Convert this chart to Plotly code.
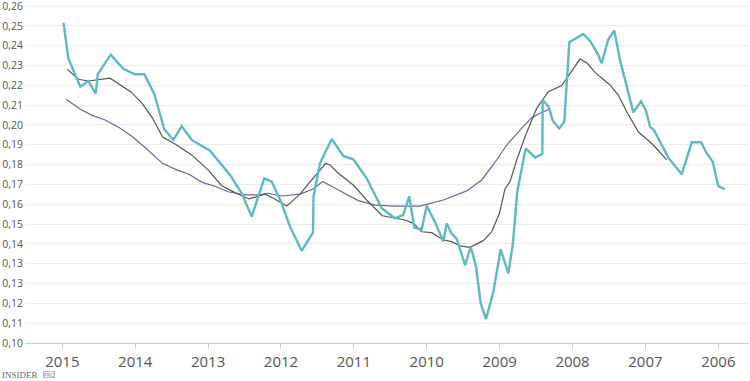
import numpy as np
import plotly.graph_objects as go

# ---- data (decimal years, values) ----
teal_x = [2014.984, 2014.918, 2014.753, 2014.643, 2014.542, 2014.514, 2014.336, 2014.163, 2014.003, 2013.875,
          2013.738, 2013.601, 2013.477, 2013.362, 2013.225, 2012.974, 2012.699, 2012.539, 2012.402, 2012.229,
          2012.127, 2011.990, 2011.876, 2011.716, 2011.561, 2011.554, 2011.465, 2011.304, 2011.145, 2011.008,
          2010.824, 2010.618, 2010.436, 2010.322, 2010.240, 2010.171, 2010.069, 2010.001, 2009.887, 2009.773,
          2009.726, 2009.658, 2009.589, 2009.475, 2009.397, 2009.324, 2009.260, 2009.187, 2009.087, 2008.986,
          2008.881, 2008.821, 2008.758, 2008.643, 2008.511, 2008.415, 2008.409, 2008.323, 2008.272, 2008.182,
          2008.113, 2008.044, 2007.852, 2007.751, 2007.647, 2007.600, 2007.509, 2007.427, 2007.349, 2007.166,
          2007.061, 2006.992, 2006.937, 2006.878, 2006.686, 2006.502, 2006.365, 2006.238, 2006.159, 2006.077,
          2006.000, 2005.908]
teal_y = [0.2521, 0.2352, 0.2217, 0.2244, 0.2184, 0.2276, 0.2369, 0.2302, 0.2276, 0.2276,
          0.2182, 0.2015, 0.1964, 0.2030, 0.1964, 0.1913, 0.1798, 0.1711, 0.1600, 0.1782,
          0.1766, 0.1663, 0.1552, 0.1438, 0.1524, 0.1695, 0.1853, 0.1969, 0.1888, 0.1872,
          0.1782, 0.1640, 0.1592, 0.1608, 0.1696, 0.1547, 0.1540, 0.1652, 0.1574, 0.1482,
          0.1567, 0.1518, 0.1494, 0.1370, 0.1456, 0.1363, 0.1188, 0.1114, 0.1242, 0.1445,
          0.1331, 0.1465, 0.1718, 0.1924, 0.1880, 0.1897, 0.2154, 0.2119, 0.2055, 0.2019,
          0.2051, 0.2428, 0.2467, 0.2431, 0.2367, 0.2328, 0.2442, 0.2483, 0.2344, 0.2095,
          0.2148, 0.2103, 0.2027, 0.2008, 0.1880, 0.1801, 0.1953, 0.1953, 0.1901, 0.1861,
          0.1745, 0.1730]

gray_x = [2014.931, 2014.780, 2014.643, 2014.346, 2014.058, 2013.907, 2013.763, 2013.625, 2013.454, 2013.225,
          2012.997, 2012.813, 2012.631, 2012.439, 2012.219, 2012.105, 2011.921, 2011.739, 2011.578, 2011.386,
          2011.327, 2011.214, 2011.008, 2010.824, 2010.610, 2010.436, 2010.299, 2010.185, 2010.069, 2009.932,
          2009.773, 2009.658, 2009.544, 2009.407, 2009.224, 2009.109, 2009.002, 2008.927, 2008.858, 2008.766,
          2008.652, 2008.492, 2008.332, 2008.149, 2007.898, 2007.797, 2007.692, 2007.486, 2007.372, 2007.257,
          2007.098, 2006.892, 2006.708]
gray_y = [0.2299, 0.2252, 0.2244, 0.2257, 0.2192, 0.2139, 0.2068, 0.1978, 0.1945, 0.1893,
          0.1821, 0.1747, 0.1714, 0.1684, 0.1707, 0.1687, 0.1650, 0.1707, 0.1774, 0.1853,
          0.1845, 0.1806, 0.1750, 0.1679, 0.1604, 0.1592, 0.1584, 0.1568, 0.1528, 0.1524,
          0.1489, 0.1481, 0.1461, 0.1454, 0.1486, 0.1528, 0.1617, 0.1731, 0.1766, 0.1869,
          0.1979, 0.2114, 0.2193, 0.2222, 0.2348, 0.2328, 0.2285, 0.2225, 0.2177, 0.2098,
          0.2003, 0.1940, 0.1869]

purple_x = [2014.949, 2014.757, 2014.597, 2014.414, 2014.222, 2014.037, 2013.842, 2013.625, 2013.440, 2013.262,
            2013.088, 2012.891, 2012.723, 2012.494, 2012.311, 2012.174, 2011.990, 2011.739, 2011.557, 2011.428,
            2011.167, 2010.939, 2010.710, 2010.436, 2010.093, 2009.773, 2009.452, 2009.246, 2009.040, 2008.903,
            2008.721, 2008.560, 2008.446, 2008.319]
purple_y = [0.2157, 0.2111, 0.2082, 0.2059, 0.2023, 0.1979, 0.1921, 0.1853, 0.1823, 0.1801,
            0.1764, 0.1742, 0.1718, 0.1703, 0.1703, 0.1711, 0.1698, 0.1707, 0.1731, 0.1767,
            0.1718, 0.1676, 0.1655, 0.1650, 0.1650, 0.1679, 0.1722, 0.1774, 0.1869, 0.1940,
            0.2011, 0.2070, 0.2091, 0.2110]

year_ticks = [2015, 2014, 2013, 2012, 2011, 2010, 2009, 2008, 2007, 2006]
y_tick_text = ["0,10", "0,11", "0,12", "0,13", "0,13", "0,14", "0,15", "0,16", "0,17",
               "0,18", "0,19", "0,20", "0,21", "0,22", "0,23", "0,24", "0,25", "0,26"]
y_min, y_max = 0.10, 0.26

fig = go.Figure()
fig.add_trace(go.Scatter(x=purple_x, y=purple_y, mode="lines",
                         line=dict(color="#6e63a3", width=1.2), hoverinfo="skip"))
fig.add_trace(go.Scatter(x=gray_x, y=gray_y, mode="lines",
                         line=dict(color="#555555", width=1.2), hoverinfo="skip"))
fig.add_trace(go.Scatter(x=teal_x, y=teal_y, mode="lines",
                         line=dict(color="#5bbac3", width=2.4), hoverinfo="skip"))

fig.update_layout(
    width=750, height=381, autosize=False,
    margin=dict(l=25, r=1, t=1, b=38, autoexpand=False),
    paper_bgcolor="white", plot_bgcolor="white",
    showlegend=False,
    font=dict(family="Open Sans, sans-serif", color="#555555"),
)
fig.update_xaxes(
    range=[2015.512, 2005.579], automargin=False,
    tickvals=year_ticks, ticktext=[str(y) for y in year_ticks],
    showgrid=False, zeroline=False,
    showline=True, linecolor="#cccccc", linewidth=1,
    ticks="outside", ticklen=5, tickcolor="#cccccc",
    tickfont=dict(size=15, color="#555555"),
)
tick_vals = [round(v, 6) for v in np.linspace(y_min, y_max, len(y_tick_text))]
fig.update_yaxes(
    range=[y_min, y_max + 5 * (y_max - y_min) / 337], automargin=False,
    tickvals=tick_vals, ticktext=y_tick_text, ticklabeloverflow="allow",
    showgrid=True, gridcolor="#ebebeb", gridwidth=1,
    zeroline=False, showline=False, ticks="", ticklabelstandoff=1,
    tickfont=dict(size=10.5, color="#555555"),
)
fig.add_annotation(
    xref="paper", yref="paper", x=-0.0345, y=-0.095, xanchor="left", yanchor="middle",
    text="INSIDER", showarrow=False,
    font=dict(family="Liberation Serif, serif", size=9, color="#666666"),
)
fig.add_annotation(
    xref="paper", yref="paper", x=0.025, y=-0.093, xanchor="left", yanchor="middle",
    text="PRO", showarrow=False, borderwidth=0.6, bordercolor="#999999", borderpad=0,
    font=dict(family="Liberation Sans, sans-serif", size=5, color="#888888"),
)

fig.write_html("out.html", config={"displayModeBar": False},
               post_script="document.body.style.margin='0';document.body.style.overflow='hidden';")
